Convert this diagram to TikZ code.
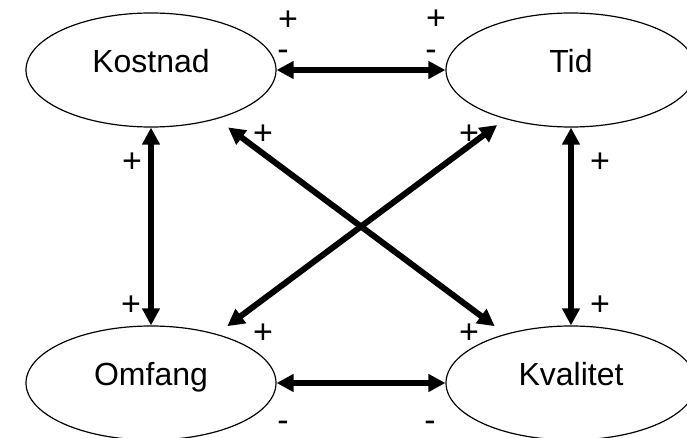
\documentclass[tikz,border=0pt]{standalone}
\usepackage{fontspec}
\setmainfont{Liberation Sans}
\usetikzlibrary{shapes.geometric, arrows.meta}

\tikzset{
  goal/.style={draw, ellipse, line width=1.2pt, minimum width=250pt, minimum height=114pt,
    inner sep=0pt, text depth=18pt, font=\fontsize{32}{36}\selectfont},
  link/.style={line width=6pt, {Triangle[length=17pt,width=17pt]}-{Triangle[length=17pt,width=17pt]}},
  sign/.style={inner sep=0pt, font=\fontsize{34}{36}\selectfont},
}

\begin{document}
\begin{tikzpicture}[x=1pt, y=-1pt]
                \path[use as bounding box, clip] (0,0) rectangle (687,438);
                \node[goal] (kostnad) at (151,70) {Kostnad};
                \node[goal] (tid) at (571,70) {Tid};
                \node[goal] (omfang) at (151,383) {Omfang};
                \node[goal] (kvalitet) at (571,383) {Kvalitet};
                \draw[link] (kostnad.east) -- (tid.west);
                \draw[link] (omfang.east) -- (kvalitet.west);
                \draw[link] (kostnad.south) -- (omfang.north);
                \draw[link] (tid.south) -- (kvalitet.north);
                \draw[link, shorten <=14pt, shorten >=13pt] (kostnad) -- (kvalitet);
                \draw[link, shorten <=10pt, shorten >=13pt] (tid) -- (omfang);
                % signs
                \node[sign] (s1) at (288,21) {+};
                \node[sign] (s2) at (283,55) {-};
                \node[sign] (s3) at (436,20) {+};
                \node[sign] (s4) at (431,55) {-};
                \node[sign] (s5) at (132,163) {+};
                \node[sign] (s6) at (263,135) {+};
                \node[sign] (s7) at (469,135) {+};
                \node[sign] (s8) at (600,163) {+};
                \node[sign] (s9) at (131,306) {+};
                \node[sign] (s10) at (263,334) {+};
                \node[sign] (s11) at (469,334) {+};
                \node[sign] (s12) at (600,306) {+};
                \node[sign] (s13) at (283,426) {-};
                \node[sign] (s14) at (430,426) {-};
\end{tikzpicture}
\end{document}
